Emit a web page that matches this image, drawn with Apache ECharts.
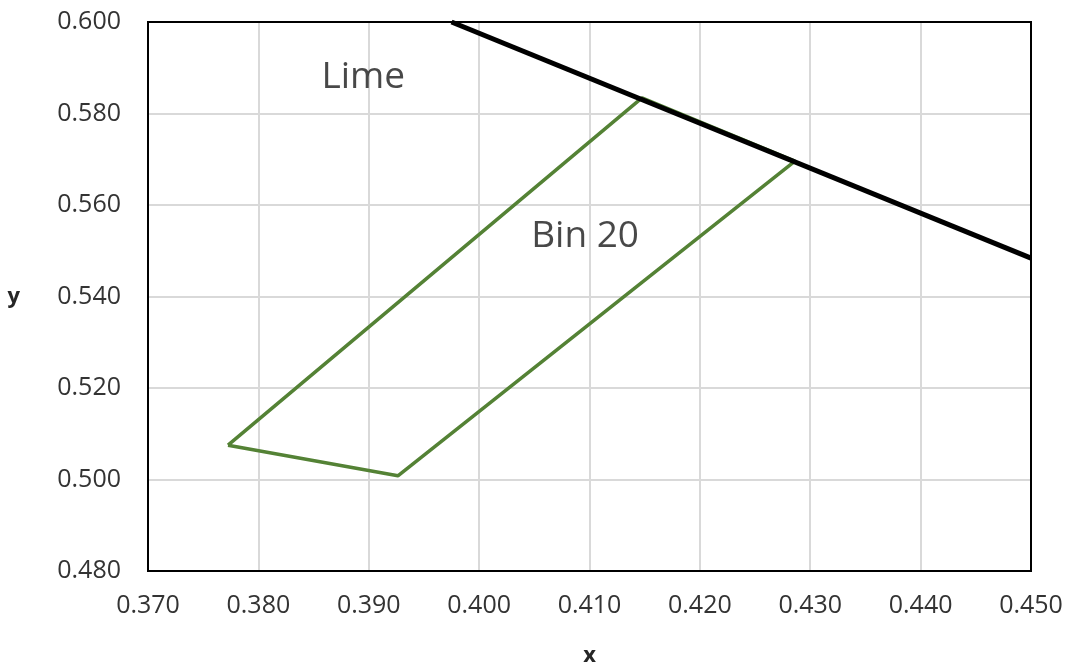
<!DOCTYPE html>
<html>
<head>
<meta charset="utf-8">
<script src="https://cdn.jsdelivr.net/npm/echarts@6/dist/echarts.min.js"></script>
<style>
  html, body { margin: 0; padding: 0; background: #fff; }
  #main { width: 1068px; height: 667px; }
</style>
</head>
<body>
<div id="main"></div>
<script>
// boundary line (Lime)
const limeX = [0.3975, 0.450];
const limeY = [0.600, 0.5484];

// Bin 20 polygon, closed
const binX = [0.37725, 0.39264, 0.42861, 0.41475, 0.37725];
const binY = [0.5075, 0.5008, 0.5696, 0.5834, 0.5075];

// text labels
const labelNames = ['Lime', 'Bin 20'];
const labelX = [0.3895, 0.4096];
const labelY = [0.5878, 0.5532];

const zip = (xs, ys) => xs.map((x, i) => [x, ys[i]]);
const font = '"Open Sans", "Liberation Sans", sans-serif';

const chart = echarts.init(document.getElementById('main'));
chart.setOption({
    animation: false,
    grid: {
        left: 148, right: 37, top: 22, bottom: 96,
        outerBoundsMode: 'none', containLabel: false,
        show: true, borderColor: '#000', borderWidth: 2, z: 3
    },
    xAxis: {
        type: 'value', min: 0.370, max: 0.450, interval: 0.010,
        name: 'x', nameLocation: 'middle', nameGap: 74,
        nameTextStyle: { fontFamily: font, fontSize: 22, fontWeight: 'bold', color: '#262626' },
        axisLine: { show: true, lineStyle: { color: '#000', width: 2 } },
        axisTick: { show: false },
        axisLabel: { fontFamily: font, fontSize: 25, color: '#333', margin: 22, formatter: v => v.toFixed(3) },
        splitLine: { showMinLine: false, showMaxLine: false, lineStyle: { color: '#d9d9d9', width: 2 } }
    },
    yAxis: {
        type: 'value', min: 0.480, max: 0.600, interval: 0.020,
        name: 'y', nameLocation: 'middle', nameGap: 128, nameRotate: 0,
        nameTextStyle: { fontFamily: font, fontSize: 22, fontWeight: 'bold', color: '#262626' },
        axisLine: { show: true, lineStyle: { color: '#000', width: 2 } },
        axisTick: { show: false },
        axisLabel: { fontFamily: font, fontSize: 25, color: '#333', margin: 27, formatter: v => v.toFixed(3) },
        splitLine: { showMinLine: false, showMaxLine: false, lineStyle: { color: '#d9d9d9', width: 2 } }
    },
    series: [
        {
            type: 'line', data: zip(binX, binY), symbol: 'none',
            lineStyle: { color: '#548235', width: 3.5 }
        },
        {
            type: 'line', data: zip(limeX, limeY), symbol: 'none',
            lineStyle: { color: '#000', width: 5 }
        },
        {
            type: 'scatter', data: zip(labelX, labelY), symbolSize: 0,
            label: {
                show: true, position: 'inside',
                formatter: p => labelNames[p.dataIndex],
                fontFamily: font, fontSize: 37, color: '#1a1a1a'
            }
        }
    ]
});
</script>
</body>
</html>
